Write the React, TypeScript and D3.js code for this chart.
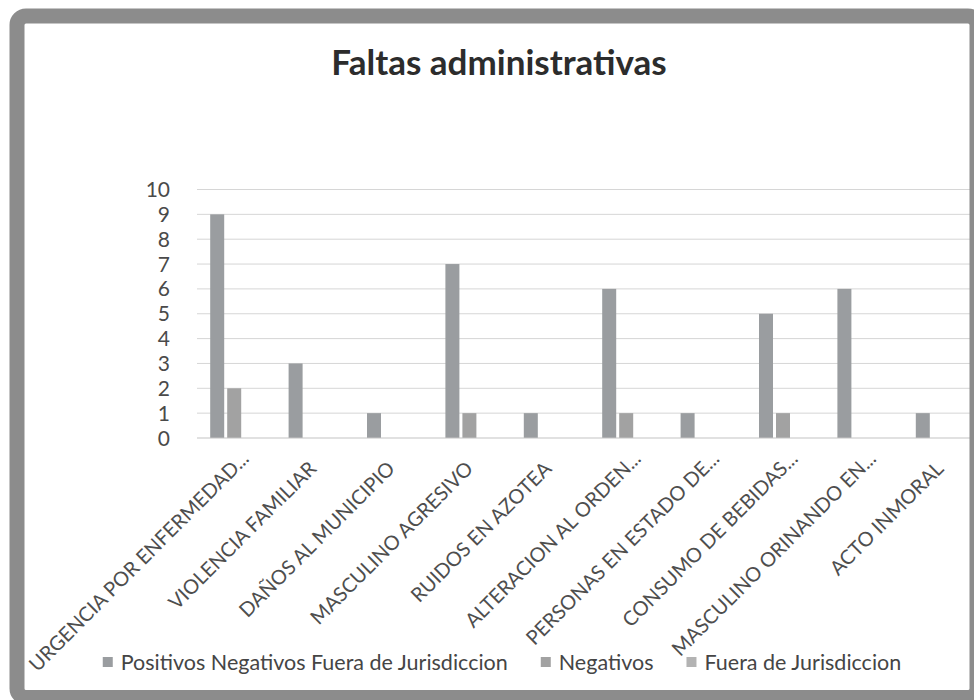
import React, { useEffect, useRef } from "react";
import * as d3 from "d3";

const title = "Faltas administrativas";

const categories = [
  "URGENCIA POR ENFERMEDAD...",
  "VIOLENCIA FAMILIAR",
  "DAÑOS AL MUNICIPIO",
  "MASCULINO AGRESIVO",
  "RUIDOS EN AZOTEA",
  "ALTERACION AL ORDEN...",
  "PERSONAS EN ESTADO DE...",
  "CONSUMO DE BEBIDAS...",
  "MASCULINO ORINANDO EN...",
  "ACTO INMORAL",
];

const seriesNames = [
  "Positivos Negativos Fuera de Jurisdiccion",
  "Negativos",
  "Fuera de Jurisdiccion",
];

const positivos = [9, 3, 1, 7, 1, 6, 1, 5, 6, 1];
const negativos = [2, 0, 0, 1, 0, 1, 0, 1, 0, 0];
const fueraDeJurisdiccion = [0, 0, 0, 0, 0, 0, 0, 0, 0, 0];

const yTicks = [0, 1, 2, 3, 4, 5, 6, 7, 8, 9, 10];

const colors = ["#9a9da0", "#a2a2a2", "#b3b3b3"];

const W = 974;
const H = 700;
const FONT = "Lato, 'Open Sans', sans-serif";

const App: React.FC = () => {
  const svgRef = useRef<SVGSVGElement>(null);

  useEffect(() => {
    if (!svgRef.current) return;
    const svg = d3.select(svgRef.current);
    svg.selectAll("*").remove();

    const values = [positivos, negativos, fueraDeJurisdiccion];

    const plot = { left: 195, right: 979, top: 189.5, bottom: 438 };

    const x = d3
      .scaleBand<string>()
      .domain(categories)
      .range([plot.left, plot.right])
      .padding(0);

    const xSub = d3
      .scaleBand<string>()
      .domain(seriesNames)
      .range([0, 48])
      .paddingInner(3 / 17);

    const y = d3.scaleLinear().domain([0, 10]).range([plot.bottom, plot.top]);

    svg.append("rect").attr("width", W).attr("height", H).attr("fill", "#ffffff");

    // title
    svg
      .append("text")
      .attr("x", 499)
      .attr("y", 75)
      .attr("text-anchor", "middle")
      .attr("font-family", FONT)
      .attr("font-weight", "bold")
      .attr("font-size", 35)
      .attr("fill", "#2c2c2c")
      .text(title);

    // grid
    svg
      .append("g")
      .selectAll("line")
      .data(yTicks.filter((t) => t > 0))
      .join("line")
      .attr("x1", plot.left + 2)
      .attr("x2", plot.right)
      .attr("y1", (d) => y(d))
      .attr("y2", (d) => y(d))
      .attr("stroke", "#d6d6d6")
      .attr("stroke-width", 1);

    // y labels
    svg
      .append("g")
      .selectAll("text")
      .data(yTicks)
      .join("text")
      .attr("x", 170)
      .attr("y", (d) => y(d))
      .attr("dy", "0.36em")
      .attr("text-anchor", "end")
      .attr("font-family", FONT)
      .attr("font-size", 21)
      .attr("fill", "#4a4a4a")
      .text((d) => String(d));

    // bars
    const groupOffset = (x.bandwidth() - 48) / 2;
    values.forEach((vals, si) => {
      svg
        .append("g")
        .selectAll("rect")
        .data(vals.map((v, i) => ({ v, c: categories[i] })).filter((d) => d.v > 0))
        .join("rect")
        .attr("x", (d) => (x(d.c) ?? 0) + groupOffset + (xSub(seriesNames[si]) ?? 0))
        .attr("y", (d) => y(d.v))
        .attr("width", xSub.bandwidth())
        .attr("height", (d) => y(0) - y(d.v))
        .attr("fill", colors[si]);
    });

    // baseline
    svg
      .append("line")
      .attr("x1", plot.left + 2)
      .attr("x2", plot.right)
      .attr("y1", y(0))
      .attr("y2", y(0))
      .attr("stroke", "#c4c4c4")
      .attr("stroke-width", 1.2);

    // category labels, rotated
    svg
      .append("g")
      .selectAll("text")
      .data(categories)
      .join("text")
      .attr("transform", (d) => {
        const cx = (x(d) ?? 0) + x.bandwidth() / 2;
        const cut = d.endsWith("...");
        const ax = cx + (cut ? 16 : 5);
        const ay = y(0) + (cut ? 22 : 32);
        return `translate(${ax},${ay}) rotate(-45)`;
      })
      .attr("text-anchor", "end")
      .attr("font-family", FONT)
      .attr("font-size", 20)
      .attr("fill", "#4e4e4e")
      .text((d) => d);

    // legend
    const legend = svg.append("g");
    const items = legend.selectAll("g").data(seriesNames).join("g");
    items
      .append("rect")
      .attr("width", 10)
      .attr("height", 10)
      .attr("y", -5)
      .attr("fill", (_, i) => colors[i]);
    items
      .append("text")
      .attr("x", 18)
      .attr("dy", "0.36em")
      .attr("font-family", FONT)
      .attr("font-size", 21.5)
      .attr("fill", "#454545")
      .text((d) => d);
    let cursor = 0;
    const offsets: number[] = [];
    items.each(function () {
      const t = d3.select(this).select("text").node() as SVGTextElement;
      offsets.push(cursor);
      cursor += 18 + t.getComputedTextLength() + 33;
    });
    const total = cursor - 33;
    const startX = 502 - total / 2;
    items.attr("transform", (_, i) => `translate(${startX + offsets[i]},662)`);

    // scanned frame
    svg
      .append("rect")
      .attr("x", 17)
      .attr("y", 16)
      .attr("width", 960)
      .attr("height", 681.5)
      .attr("rx", 9)
      .attr("fill", "none")
      .attr("stroke", "#8c8c8c")
      .attr("stroke-width", 15);
  }, []);

  return (
    <div style={{ position: "absolute", left: 0, top: 0 }}>
      <svg ref={svgRef} width={W} height={H} style={{ display: "block" }} />
    </div>
  );
};

export default App;
